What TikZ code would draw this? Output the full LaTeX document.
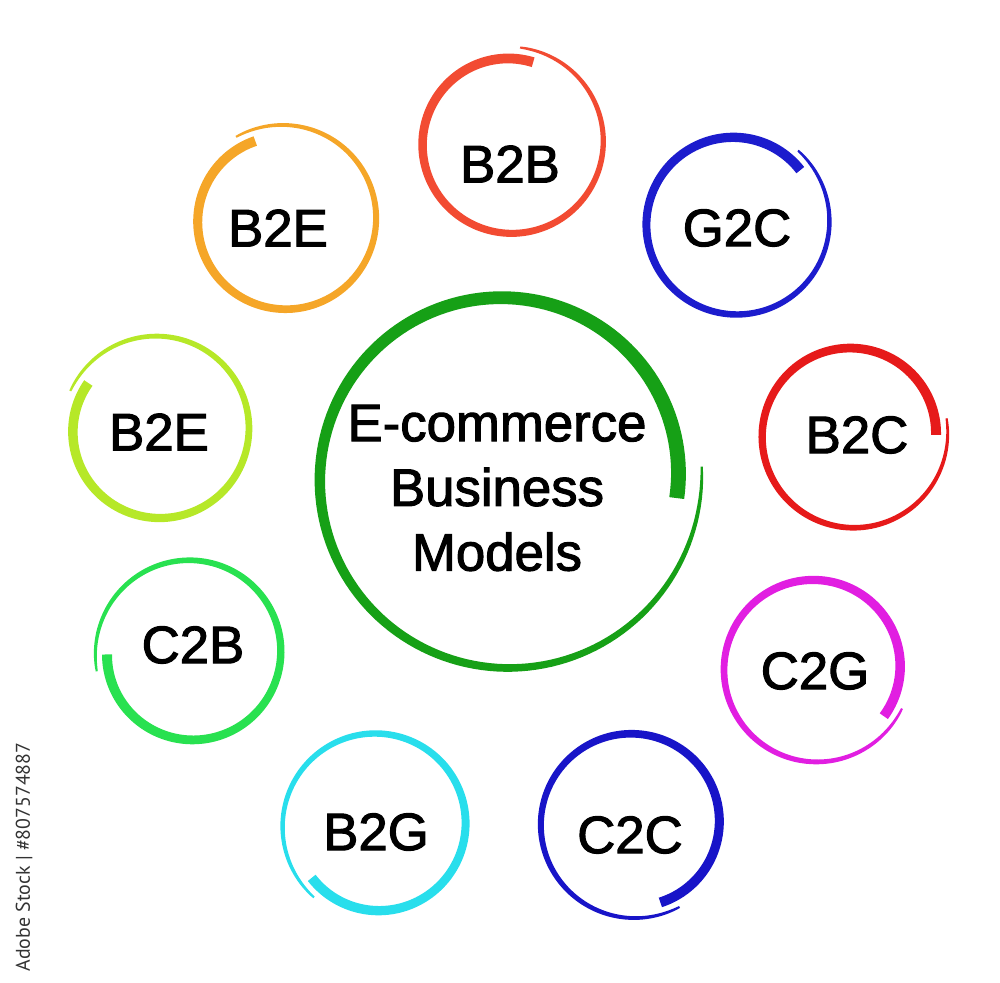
\documentclass[tikz,border=0pt]{standalone}
\usepackage{fontspec}
\setmainfont{Liberation Sans}
\newfontfamily\labelfont{Liberation Sans}[FakeBold=2]
\newfontfamily\stockfont{PT Sans}
\usepackage{xcolor}

\definecolor{hubgreen}{RGB}{22,160,22}
\definecolor{redorange}{RGB}{242,75,50}
\definecolor{deepblue}{RGB}{28,28,205}
\definecolor{brightred}{RGB}{230,26,26}
\definecolor{magenta}{RGB}{225,30,225}
\definecolor{navyblue}{RGB}{24,20,200}
\definecolor{cyanring}{RGB}{40,222,236}
\definecolor{greenring}{RGB}{40,225,80}
\definecolor{limering}{RGB}{182,232,40}
\definecolor{orangering}{RGB}{245,166,40}

\tikzset{
	model/.style={font=\labelfont\fontsize{15}{18}\selectfont, inner sep=0pt},
	hub/.style={font=\labelfont\fontsize{15}{18.4}\selectfont, align=center, inner sep=0pt},
}

% brush ring: centre, colour, start angle, radius, spread, start width
\newcommand{\brushring}[6]{%
	\begin{scope}[shift={#1},
		declare function={brt(\a)=(\a-(#3))/370; brr(\a)=#4-#5+2*#5*brt(\a); brw(\a)=(2+(#6-2)*(1.0001-brt(\a))^0.6)/2;}]
		\fill[#2] plot[domain=#3:#3+370, samples=160] ({(brr(\x)+brw(\x))*cos(\x)}, {(brr(\x)+brw(\x))*sin(\x)})
			-- plot[domain=#3+370:#3, samples=160] ({(brr(\x)-brw(\x))*cos(\x)}, {(brr(\x)-brw(\x))*sin(\x)})
			-- cycle;
	\end{scope}}

\begin{document}
\begin{tikzpicture}[x=0.01cm, y=0.01cm]
	\path[use as bounding box] (0,0) rectangle (1000,-983);

	% centre
	\brushring{(505,-477)}{hubgreen}{-7}{185}{12}{15}
	\node[hub] (ecom) at (497,-488) {E-commerce\\Business\\Models};

	% ring of models
	\brushring{(510,-143)}{redorange}{74}{90}{6}{10}
	\node[model] (b2b) at (510,-164) {B2B};
	\brushring{(735,-223)}{deepblue}{39}{90}{6}{10}
	\node[model] (g2c) at (737,-228) {G2C};
	\brushring{(852,-435)}{brightred}{0}{90}{6}{10}
	\node[model] (b2c) at (857,-435) {B2C};
	\brushring{(815,-668)}{magenta}{-35}{90}{6}{10}
	\node[model] (c2g) at (815,-671) {C2G};
	\brushring{(633,-823)}{navyblue}{-71}{90}{6}{10}
	\node[model] (c2c) at (630,-835) {C2C};
	\brushring{(377,-825)}{cyanring}{219}{90}{6}{10}
	\node[model] (b2g) at (376,-832) {B2G};
	\brushring{(191,-653)}{greenring}{181}{90}{6}{10}
	\node[model] (c2b) at (193,-645) {C2B};
	\brushring{(158,-430)}{limering}{146}{90}{6}{10}
	\node[model] (b2e-low) at (159,-432) {B2E};
	\brushring{(284,-220)}{orangering}{110}{90}{6}{10}
	\node[model] (b2e-up) at (278,-228) {B2E};

	% stock mark
	\node[rotate=90, font=\stockfont\fontsize{5.65}{7}\selectfont, text=black!80, inner sep=0pt] (mark) at (24,-857) {Adobe Stock | \#807574887};
\end{tikzpicture}
\end{document}
